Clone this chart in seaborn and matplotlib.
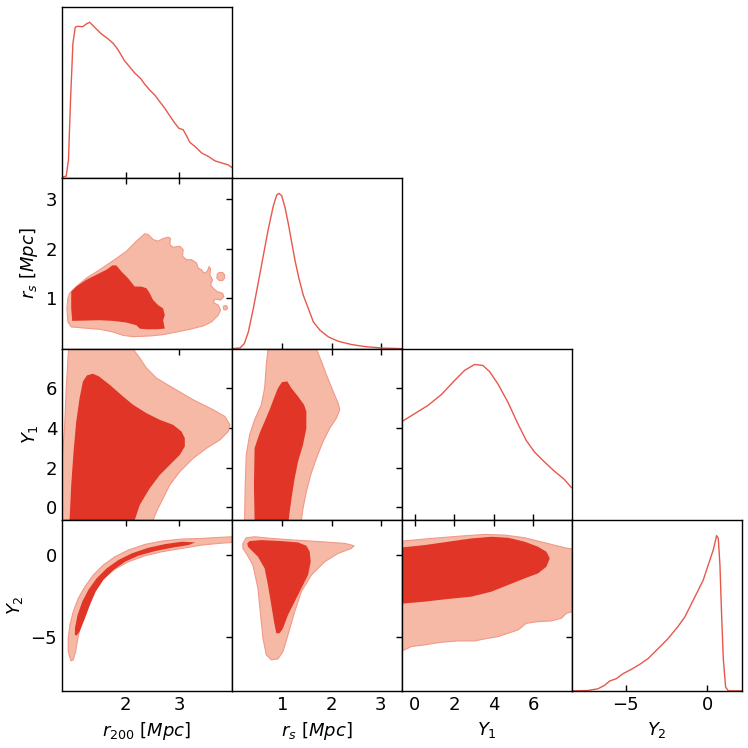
import matplotlib
matplotlib.use("Agg")
import matplotlib.pyplot as plt
import seaborn as sns

# parameter names, plot ranges and tick values
labels = ["$r_{200}\\ [Mpc]$", "$r_s\\ [Mpc]$", "$Y_1$", "$Y_2$"]
ranges = [(0.81, 3.99), (-0.02, 3.43), (-0.64, 7.97), (-8.28, 2.13)]
tick_vals = [[2, 3], [1, 2, 3], [0, 2, 4, 6], [-5, 0]]

# 1D marginals (normalised to peak = 1)
r200_x = [0.805, 0.887, 0.93, 0.968, 1.012, 1.056, 1.093, 1.2, 1.262, 1.325, 1.387, 1.45,
          1.543, 1.668, 1.762, 1.844, 1.919, 1.981, 2.075, 2.169, 2.281, 2.356, 2.45, 2.544,
          2.638, 2.732, 2.826, 2.907, 2.994, 3.076, 3.138, 3.2, 3.295, 3.42, 3.545, 3.67,
          3.795, 3.92, 3.995]
r200_p = [0.004, 0.011, 0.117, 0.5, 0.862, 0.968, 0.974, 0.972, 0.989, 1.0, 0.979, 0.957,
          0.926, 0.894, 0.866, 0.83, 0.787, 0.751, 0.713, 0.674, 0.638, 0.602, 0.564, 0.532,
          0.489, 0.447, 0.398, 0.357, 0.319, 0.309, 0.27, 0.228, 0.202, 0.16, 0.138, 0.109,
          0.096, 0.083, 0.064]

rs_x = [-0.016, 0.14, 0.228, 0.31, 0.411, 0.513, 0.614, 0.716, 0.818, 0.886, 0.933, 0.987,
        1.055, 1.123, 1.19, 1.258, 1.339, 1.427, 1.529, 1.631, 1.766, 1.936, 2.139, 2.41,
        2.681, 3.02, 3.426]
rs_p = [0.002, 0.006, 0.034, 0.109, 0.259, 0.429, 0.6, 0.771, 0.921, 0.989, 1.0, 0.985,
        0.91, 0.803, 0.686, 0.568, 0.451, 0.344, 0.259, 0.173, 0.12, 0.077, 0.049, 0.028,
        0.015, 0.006, 0.002]

y1_x = [-0.625, 0.0, 0.672, 1.346, 2.021, 2.526, 3.032, 3.453, 3.79, 4.211, 4.717, 5.223,
        5.644, 6.065, 6.571, 7.076, 7.582, 7.953]
y1_p = [0.635, 0.684, 0.737, 0.806, 0.897, 0.962, 1.0, 0.994, 0.955, 0.876, 0.759, 0.62,
        0.513, 0.438, 0.374, 0.314, 0.261, 0.207]

y2_x = [-8.236, -7.314, -6.7, -6.29, -5.982, -5.573, -5.163, -4.651, -4.138, -3.626, -3.012,
        -2.397, -1.782, -1.373, -0.963, -0.553, -0.246, 0.061, 0.369, 0.574, 0.676, 0.778,
        0.881, 0.983, 1.127, 1.291, 2.151]
y2_p = [0.002, 0.004, 0.015, 0.037, 0.065, 0.08, 0.112, 0.14, 0.172, 0.209, 0.273, 0.338,
        0.417, 0.477, 0.563, 0.649, 0.714, 0.811, 0.908, 1.0, 0.983, 0.811, 0.488, 0.209,
        0.026, 0.002, 0.002]

# 2D credible regions (95% outer, 68% inner) as (x, y) vertices
rs_r200_95 = [(0.919, 1.0), (0.95, 1.102), (1.075, 1.237), (1.263, 1.407), (1.513, 1.576),
              (1.763, 1.759), (2.013, 1.949), (2.2, 2.153), (2.356, 2.302), (2.419, 2.288),
              (2.513, 2.186), (2.606, 2.153), (2.7, 2.207), (2.794, 2.234), (2.838, 2.207),
              (2.825, 2.085), (2.888, 2.031), (3.013, 2.051), (3.075, 1.983), (3.063, 1.847),
              (3.138, 1.78), (3.231, 1.78), (3.325, 1.712), (3.356, 1.61), (3.419, 1.576),
              (3.463, 1.508), (3.525, 1.542), (3.563, 1.644), (3.588, 1.59), (3.575, 1.475),
              (3.625, 1.373), (3.588, 1.271), (3.638, 1.203), (3.713, 1.136), (3.813, 1.102),
              (3.838, 1.034), (3.775, 0.966), (3.669, 0.986), (3.638, 0.919), (3.731, 0.864),
              (3.775, 0.763), (3.731, 0.661), (3.606, 0.525), (3.45, 0.444), (3.2, 0.376),
              (2.95, 0.322), (2.7, 0.268), (2.45, 0.241), (2.138, 0.227), (1.95, 0.254),
              (1.763, 0.322), (1.513, 0.376), (1.2, 0.403), (0.981, 0.424), (0.919, 0.525),
              (0.9, 0.797)]
rs_r200_95_isl1 = [(3.713, 1.488), (3.75, 1.522), (3.813, 1.522), (3.85, 1.475),
                   (3.85, 1.407), (3.813, 1.359), (3.75, 1.359), (3.706, 1.407)]
rs_r200_95_isl2 = [(3.825, 0.81), (3.838, 0.851), (3.888, 0.851), (3.906, 0.81),
                   (3.888, 0.769), (3.838, 0.769)]
rs_r200_68 = [(0.981, 1.136), (1.075, 1.237), (1.263, 1.373), (1.45, 1.475), (1.638, 1.576),
              (1.75, 1.664), (1.825, 1.664), (1.919, 1.542), (2.044, 1.407), (2.169, 1.237),
              (2.294, 1.237), (2.388, 1.203), (2.45, 1.102), (2.513, 0.966), (2.606, 0.864),
              (2.7, 0.797), (2.731, 0.661), (2.7, 0.559), (2.731, 0.39), (2.575, 0.376),
              (2.388, 0.376), (2.263, 0.39), (2.2, 0.458), (2.013, 0.512), (1.763, 0.546),
              (1.513, 0.559), (1.263, 0.553), (1.0, 0.546), (0.981, 0.797)]

y1_r200_95 = [(0.8, -1.227), (0.813, 2.471), (0.856, 3.983), (0.888, 6.0), (0.931, 7.966),
              (0.938, 8.521), (2.106, 8.521), (2.138, 7.966), (2.263, 7.513), (2.388, 7.008),
              (2.575, 6.504), (2.888, 6.0), (3.263, 5.412), (3.638, 4.908), (3.856, 4.571),
              (3.95, 4.151), (3.919, 3.815), (3.763, 3.395), (3.513, 2.975), (3.263, 2.471),
              (3.013, 1.798), (2.825, 1.126), (2.7, 0.454), (2.575, -0.218), (2.513, -0.639),
              (2.45, -1.227)]
y1_r200_68 = [(0.938, -1.227), (0.95, -0.639), (0.981, 1.126), (1.025, 2.807), (1.075, 4.319),
              (1.138, 5.496), (1.2, 6.336), (1.275, 6.639), (1.388, 6.723), (1.5, 6.588),
              (1.7, 6.168), (1.95, 5.58), (2.138, 5.16), (2.388, 4.739), (2.638, 4.403),
              (2.888, 4.151), (3.044, 3.815), (3.106, 3.479), (3.106, 3.059), (3.013, 2.639),
              (2.856, 2.218), (2.638, 1.63), (2.45, 0.958), (2.263, 0.118), (2.169, -0.639),
              (2.138, -1.227)]

y2_r200_95 = [(0.975, -6.437), (0.925, -5.87), (0.925, -5.061), (0.956, -4.251), (1.019, -3.441),
              (1.113, -2.632), (1.238, -1.923), (1.394, -1.215), (1.581, -0.607), (1.8, -0.101),
              (2.05, 0.304), (2.363, 0.648), (2.675, 0.85), (3.05, 0.972), (3.425, 1.012),
              (3.738, 1.073), (3.988, 1.113), (4.3, 1.154), (4.3, 0.81), (3.988, 0.769),
              (3.738, 0.709), (3.425, 0.607), (3.05, 0.405), (2.675, 0.202), (2.363, -0.04),
              (2.05, -0.405), (1.8, -0.85), (1.581, -1.417), (1.425, -2.126), (1.3, -2.935),
              (1.206, -3.745), (1.144, -4.453), (1.1, -5.162), (1.063, -5.87), (1.019, -6.377)]
y2_r200_68 = [(1.05, -4.858), (1.05, -4.453), (1.1, -3.644), (1.188, -2.834), (1.3, -2.126),
              (1.456, -1.417), (1.644, -0.81), (1.863, -0.304), (2.113, 0.101), (2.425, 0.445),
              (2.738, 0.668), (3.05, 0.81), (3.3, 0.769), (3.175, 0.607), (2.863, 0.445),
              (2.55, 0.243), (2.238, -0.04), (1.988, -0.405), (1.769, -0.911), (1.581, -1.518),
              (1.438, -2.227), (1.331, -3.036), (1.238, -3.846), (1.144, -4.615), (1.081, -4.899)]

y1_rs_95 = [(0.234, -1.227), (0.234, -0.639), (0.247, 1.126), (0.268, 2.639), (0.336, 3.647),
            (0.437, 4.403), (0.573, 5.16), (0.641, 6.0), (0.675, 7.176), (0.708, 7.966),
            (0.722, 8.521), (1.671, 8.521), (1.692, 7.966), (1.793, 7.345), (1.895, 6.672),
            (2.031, 5.832), (2.132, 5.244), (2.166, 4.908), (2.098, 4.487), (1.963, 3.983),
            (1.827, 3.311), (1.692, 2.471), (1.576, 1.63), (1.488, 0.79), (1.42, -0.05),
            (1.386, -0.639), (1.373, -1.227)]
y1_rs_68 = [(0.437, -1.227), (0.437, -0.639), (0.424, 1.126), (0.437, 2.975), (0.539, 3.731),
            (0.641, 4.319), (0.742, 4.908), (0.844, 5.58), (0.912, 6.0), (0.993, 6.303),
            (1.102, 6.336), (1.183, 6.0), (1.319, 5.58), (1.441, 5.16), (1.488, 4.824),
            (1.488, 3.983), (1.42, 3.143), (1.319, 2.303), (1.251, 1.462), (1.197, 0.622),
            (1.149, -0.218), (1.129, -0.639), (1.129, -1.227)]

y2_rs_95 = [(0.2, 0.709), (0.268, 1.053), (0.437, 1.113), (0.776, 1.012), (1.251, 0.911),
            (1.793, 0.81), (2.268, 0.709), (2.458, 0.567), (2.403, 0.405), (2.132, 0.101),
            (1.861, -0.405), (1.59, -1.215), (1.386, -2.227), (1.251, -3.441), (1.115, -4.858),
            (1.014, -5.87), (0.912, -6.316), (0.776, -6.377), (0.675, -6.073), (0.607, -5.061),
            (0.559, -3.644), (0.505, -2.024), (0.403, -0.607), (0.268, 0.101), (0.2, 0.405)]
y2_rs_68 = [(0.288, 0.709), (0.336, 0.85), (0.573, 0.911), (0.98, 0.85), (1.319, 0.769),
            (1.488, 0.567), (1.556, 0.202), (1.576, -0.405), (1.522, -1.215), (1.386, -2.024),
            (1.251, -2.834), (1.115, -3.644), (1.014, -4.453), (0.946, -4.757), (0.878, -4.757),
            (0.831, -4.049), (0.776, -3.036), (0.708, -1.822), (0.641, -0.81), (0.505, -0.101),
            (0.369, 0.304), (0.302, 0.506)]

y2_y1_95 = [(-1.182, 0.85), (-0.625, 0.85), (0.845, 1.012), (2.534, 1.174), (3.547, 1.255),
            (4.561, 1.215), (5.574, 1.053), (6.25, 0.85), (6.926, 0.648), (7.601, 0.445),
            (7.99, 0.364), (8.615, 0.304), (8.615, -3.34), (7.99, -3.441), (7.686, -3.543),
            (7.432, -3.846), (6.926, -4.008), (6.25, -4.049), (5.659, -4.15), (5.236, -4.555),
            (4.73, -4.757), (4.223, -4.96), (3.547, -5.101), (3.041, -5.223), (2.196, -5.223),
            (1.351, -5.304), (0.507, -5.466), (-0.169, -5.567), (-0.625, -5.83), (-1.182, -5.972)]
y2_y1_68 = [(-1.182, 0.445), (-0.625, 0.466), (0.507, 0.607), (1.689, 0.81), (2.872, 1.012),
            (3.885, 1.113), (4.73, 1.053), (5.574, 0.81), (6.25, 0.506), (6.672, 0.202),
            (6.841, -0.202), (6.672, -0.709), (6.25, -1.113), (5.574, -1.417), (4.73, -1.822),
            (3.885, -2.227), (2.872, -2.53), (1.689, -2.672), (0.507, -2.834), (-0.625, -2.955),
            (-1.182, -2.996)]

LIGHT = "#f6b9a5"
EDGE = "#f1998a"
DARK = "#e03527"
LINE = "#e8574b"

sns.set_style("white", {"text.color": "black", "axes.labelcolor": "black",
                        "xtick.color": "black", "ytick.color": "black",
                        "axes.edgecolor": "black"})
plt.rcParams["font.family"] = ["DejaVu Sans"]
plt.rcParams["mathtext.fontset"] = "dejavusans"

marginals = [(r200_x, r200_p), (rs_x, rs_p), (y1_x, y1_p), (y2_x, y2_p)]
regions = {
    (1, 0): [rs_r200_95, rs_r200_95_isl1, rs_r200_95_isl2], (2, 0): [y1_r200_95],
    (3, 0): [y2_r200_95], (2, 1): [y1_rs_95], (3, 1): [y2_rs_95], (3, 2): [y2_y1_95],
}
cores = {
    (1, 0): [rs_r200_68], (2, 0): [y1_r200_68], (3, 0): [y2_r200_68],
    (2, 1): [y1_rs_68], (3, 1): [y2_rs_68], (3, 2): [y2_y1_68],
}

n = len(labels)
fig, axes = plt.subplots(n, n, figsize=(7.48, 7.48), dpi=100)
fig.subplots_adjust(left=0.083, right=0.992, bottom=0.076, top=0.991, wspace=0, hspace=0)

for i in range(n):
    for j in range(n):
        ax = axes[i, j]
        if j > i:
            ax.set_visible(False)
            continue
        for s in ax.spines.values():
            s.set_color("black")
            s.set_linewidth(1.0)
        ax.set_xlim(ranges[j])
        ax.set_xticks(tick_vals[j])
        if i == j:
            mx, mp = marginals[i]
            sns.lineplot(x=mx, y=mp, ax=ax, color=LINE, lw=1.0)
            ax.set_ylim(0, 1.1)
            ax.set_yticks([])
            ax.tick_params(axis="x", direction="in", top=False, bottom=True, length=4, width=1)
        else:
            for poly in regions[(i, j)]:
                xs, ys = zip(*poly)
                ax.fill(xs, ys, facecolor=LIGHT, edgecolor=EDGE, lw=0.8, zorder=1)
            for poly in cores[(i, j)]:
                xs, ys = zip(*poly)
                ax.fill(xs, ys, facecolor=DARK, edgecolor="none", zorder=2)
            ax.set_ylim(ranges[i])
            ax.set_yticks(tick_vals[i])
            ax.tick_params(direction="in", top=True, right=True, length=4, width=1)
        ax.set_xlabel("")
        ax.set_ylabel("")
        ax.tick_params(labelsize=13, colors="black")
        if i == n - 1:
            ax.set_xlabel(labels[j], fontsize=13, color="black")
        else:
            ax.set_xticklabels([])
        if j == 0 and i > 0:
            ax.set_ylabel(labels[i], fontsize=13, color="black")
        else:
            ax.set_yticklabels([])

fig.savefig("out.png", dpi=100)
